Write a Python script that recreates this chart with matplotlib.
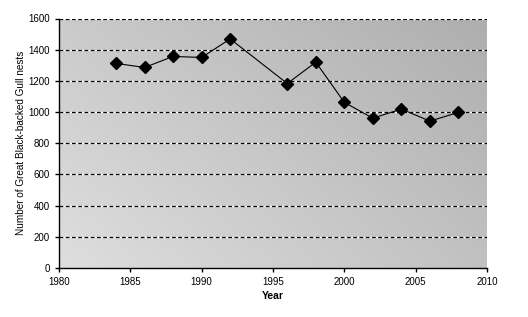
import numpy as np
import matplotlib
matplotlib.use('Agg')
import matplotlib.pyplot as plt
from matplotlib.colors import LinearSegmentedColormap

plt.rcParams['font.family'] = ['Liberation Sans', 'DejaVu Sans']

years = [1984, 1986, 1988, 1990, 1992, 1996, 1998, 2000, 2002, 2004, 2006, 2008]
nests = [1312, 1286, 1357, 1350, 1469, 1183, 1320, 1062, 961, 1019, 942, 998]

fig = plt.figure(figsize=(5.28, 3.17), dpi=100)
ax = fig.add_axes([59/528, 1 - 268/317, (487-59)/528, (268-18.5)/317])

# gradient background (light bottom-left to darker top-right)
gx, gy = np.meshgrid(np.linspace(0, 1, 200), np.linspace(0, 1, 200))
grad = (gx * 0.6 + gy * 0.4)
cmap = LinearSegmentedColormap.from_list('bg', ['#dedede', '#aeaeae'])
ax.imshow(grad, extent=[0, 1, 0, 1], transform=ax.transAxes, origin='lower',
          cmap=cmap, aspect='auto', zorder=0)

ax.set_xlim(1980, 2010)
ax.set_ylim(0, 1600)
ax.set_xticks(range(1980, 2011, 5))
ax.set_yticks(range(0, 1601, 200))

for yv in range(200, 1601, 200):
    ax.axhline(yv, color='white', lw=0.9, zorder=1)
    ax.axhline(yv, color='black', lw=0.9, linestyle=(0, (3, 2)), zorder=2)

ax.plot(years, nests, color='black', lw=0.8, marker='D', markersize=5.8, zorder=3)

for s in ['top', 'right']:
    ax.spines[s].set_visible(False)
ax.spines['left'].set_linewidth(1)
ax.spines['bottom'].set_linewidth(1)
ax.tick_params(direction='out', length=3, width=1, labelsize=7)

ax.set_xlabel('Year', fontsize=7.5, fontweight='bold', labelpad=3)
ax.set_ylabel('Number of Great Black-backed Gull nests', fontsize=7.2, labelpad=2)

fig.savefig('out.png', dpi=100)
